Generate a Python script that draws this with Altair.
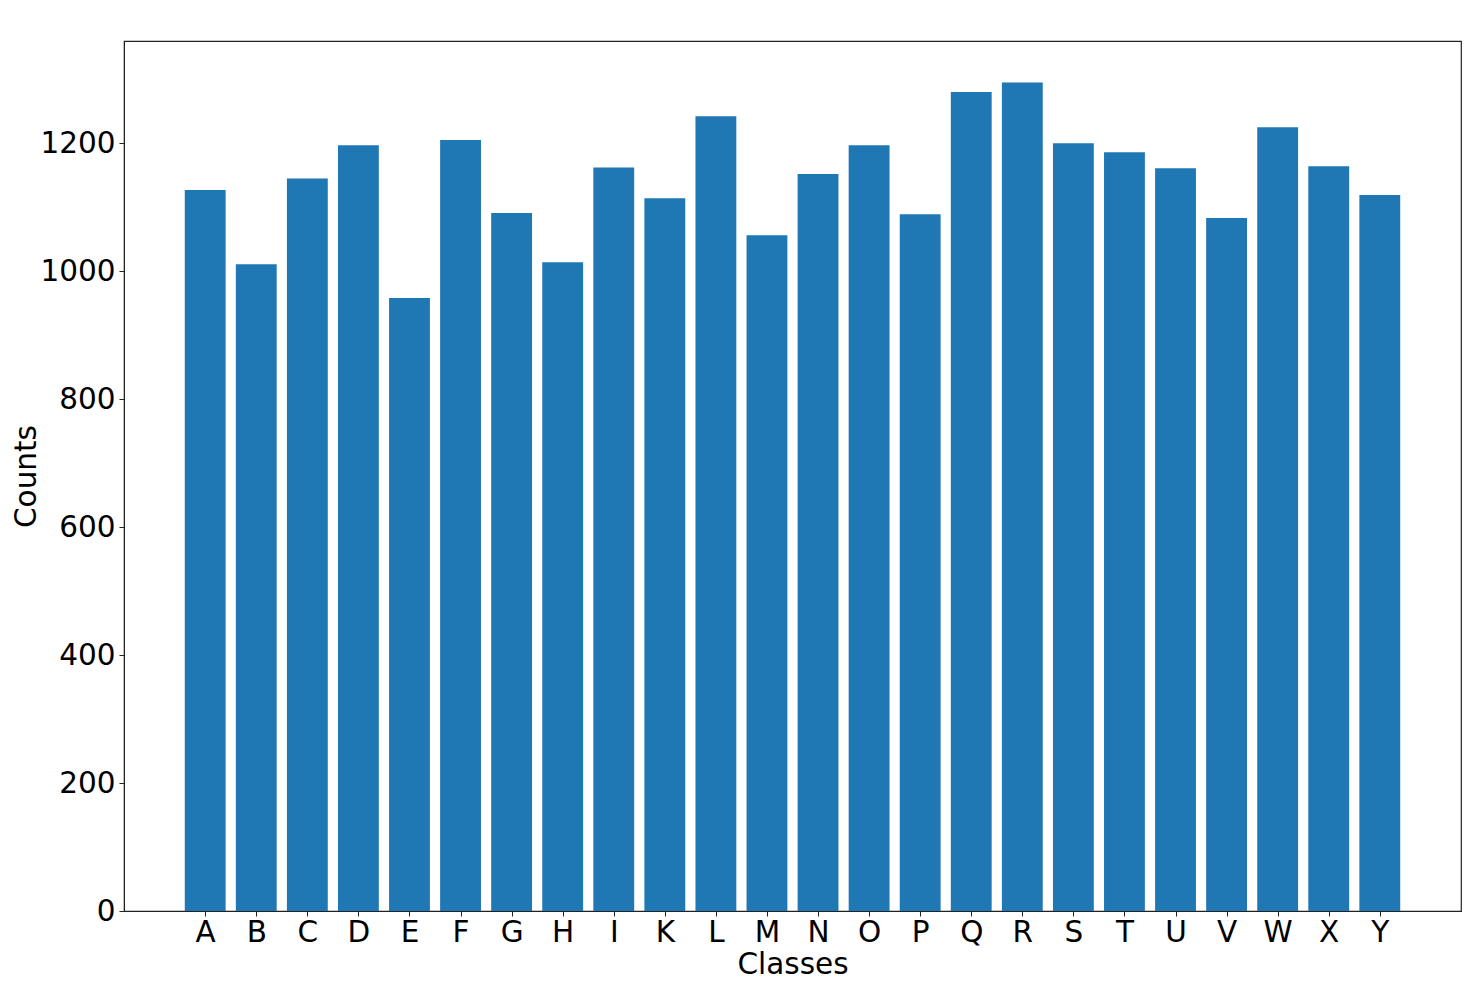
import altair as alt
import pandas as pd

classes = ["A", "B", "C", "D", "E", "F", "G", "H", "I", "K", "L", "M",
           "N", "O", "P", "Q", "R", "S", "T", "U", "V", "W", "X", "Y"]
counts = [1127, 1011, 1145, 1197, 958, 1205, 1091, 1014, 1162, 1114, 1242, 1056,
          1152, 1197, 1089, 1280, 1295, 1200, 1186, 1161, 1083, 1225, 1164, 1119]
y_ticks = [0, 200, 400, 600, 800, 1000, 1200]

n = len(classes)
df = pd.DataFrame({
    "Classes": classes,
    "Counts": counts,
    "idx": list(range(n)),
})
df["x0"] = df["idx"] - 0.4
df["x1"] = df["idx"] + 0.4
df["base"] = 0

FONT = "DejaVu Sans"
FS = 29.5
W, H = 1337, 870
EDGE = "#222222"

# matplotlib-style 5% margins
xmin = -0.4 - 0.05 * (n - 1 + 0.8)
xmax = (n - 1 + 0.4) + 0.05 * (n - 1 + 0.8)
ymax = max(counts) * 1.05

label_expr = "[" + ",".join("'%s'" % c for c in classes) + "][datum.value]"

chart = alt.Chart(df).mark_bar(color="#1f77b4").encode(
    x=alt.X("x0:Q", scale=alt.Scale(domain=[xmin, xmax], nice=False, zero=False),
            axis=alt.Axis(title="Classes", values=list(range(n)), labelExpr=label_expr,
                          labelAngle=0, labelFontSize=FS, titleFontSize=FS,
                          labelFont=FONT, titleFont=FONT,
                          labelColor="black", titleColor="black",
                          tickColor=EDGE, domainColor=EDGE,
                          tickSize=5, labelPadding=2,
                          titleX=W / 2, titleY=62, titleBaseline="alphabetic",
                          titleFontWeight="normal", grid=False, labelFlush=False,
                          labelOverlap=False)),
    x2="x1:Q",
    y=alt.Y("Counts:Q", scale=alt.Scale(domain=[0, ymax], nice=False),
            axis=alt.Axis(title="Counts", values=y_ticks, format="d",
                          labelFontSize=FS, titleFontSize=FS, labelFont=FONT,
                          titleFont=FONT, labelColor="black", titleColor="black",
                          tickColor=EDGE, domainColor=EDGE, tickSize=5,
                          labelPadding=4, titleX=-89, titleY=H / 2,
                          titleAngle=-90, titleBaseline="alphabetic",
                          titleFontWeight="normal", grid=False, labelFlush=False)),
    y2="base:Q",
).properties(
    width=W, height=H,
    background="white",
    autosize=alt.AutoSizeParams(type="none"),
    padding={"left": 116, "top": 33, "right": 1, "bottom": 68},
).configure_view(
    stroke=EDGE, strokeWidth=1.2
)

chart.save("out.html", embed_options={"renderer": "svg", "actions": False})
